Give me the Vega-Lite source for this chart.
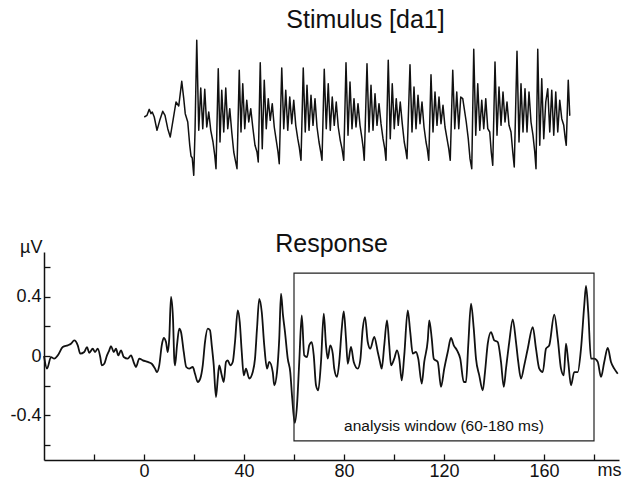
{
  "$schema": "https://vega.github.io/schema/vega-lite/v6.json",
  "background": "white",
  "padding": {"left": 9, "top": 8, "right": 5, "bottom": 0},
  "spacing": 50,
  "config": {
    "view": {"stroke": null},
    "font": "Liberation Sans",
    "title": {"anchor": "middle", "fontWeight": "normal", "color": "#111", "fontSize": 25, "font": "Liberation Sans"}
  },
  "datasets": {
    "stim": [
      {"t":0.1,"a":-0.05},{"t":1.2,"a":0},{"t":2.1,"a":0.18},{"t":2.8,"a":0.05},{"t":3.3,"a":0.1},{"t":4.1,"a":-0.05},{"t":5.2,"a":-0.45},{"t":6.3,"a":-0.15},{"t":7.5,"a":0.12},{"t":8.4,"a":0},{"t":9.5,"a":-0.4},{"t":10.5,"a":-0.65},{"t":11.6,"a":-0.15},{"t":12.8,"a":0.4},{"t":13.9,"a":0.28},{"t":15.1,"a":1.02},{"t":15.9,"a":0.5},{"t":16.5,"a":0.05},{"t":17.5,"a":-0.2},{"t":18.3,"a":-0.9},{"t":18.8,"a":-1.22},{"t":19.3,"a":-1.28},{"t":19.9,"a":-1.8},{"t":20.4,"a":-0.5},
      {"t":21.1,"a":2.25},{"t":21.9,"a":-0.45},{"t":22.7,"a":0.82},{"t":23.5,"a":-0.4},{"t":24.3,"a":0.78},{"t":25.1,"a":-0.35},{"t":25.9,"a":0.1},{"t":26.7,"a":-0.45},{"t":27.6,"a":-0.8},{"t":28.3,"a":-1.2},{"t":28.8,"a":-1.6},
      {"t":29.7,"a":1.4},{"t":30.4,"a":-0.8},{"t":31.1,"a":0.75},{"t":31.9,"a":-0.5},{"t":32.7,"a":0.82},{"t":33.5,"a":-0.4},{"t":34.3,"a":0.2},{"t":35.1,"a":-0.5},{"t":35.9,"a":-1.1},{"t":36.4,"a":-1.3},{"t":37.2,"a":-1.6},
      {"t":38.1,"a":1.35},{"t":38.8,"a":-0.5},{"t":39.5,"a":0.95},{"t":40.3,"a":-0.4},{"t":41.1,"a":0.45},{"t":41.9,"a":-0.2},{"t":42.7,"a":0.2},{"t":43.5,"a":-0.35},{"t":44.4,"a":-0.9},{"t":45.2,"a":-1.1},{"t":45.7,"a":-1.4},
      {"t":46.5,"a":1.58},{"t":47.3,"a":-1.0},{"t":48.1,"a":1.05},{"t":48.9,"a":-0.4},{"t":49.7,"a":0.5},{"t":50.5,"a":-0.15},{"t":51.3,"a":0.35},{"t":52.1,"a":-0.35},{"t":52.9,"a":-0.75},{"t":53.6,"a":-1.1},{"t":54.1,"a":-1.45},
      {"t":55.1,"a":1.42},{"t":55.9,"a":-0.4},{"t":56.7,"a":0.75},{"t":57.5,"a":-0.45},{"t":58.3,"a":0.55},{"t":59.1,"a":-0.25},{"t":59.9,"a":0.45},{"t":60.7,"a":-0.3},{"t":61.5,"a":-0.7},{"t":62.1,"a":-0.95},{"t":62.8,"a":-1.35},
      {"t":63.7,"a":1.42},{"t":64.5,"a":-0.5},{"t":65.2,"a":0.9},{"t":66.0,"a":-0.45},{"t":66.8,"a":0.6},{"t":67.6,"a":-0.3},{"t":68.4,"a":0.5},{"t":69.2,"a":-0.35},{"t":70.0,"a":-0.8},{"t":70.7,"a":-1.1},{"t":71.2,"a":-1.35},
      {"t":72.1,"a":1.38},{"t":72.9,"a":-0.4},{"t":73.7,"a":0.95},{"t":74.5,"a":-0.45},{"t":75.3,"a":0.55},{"t":76.1,"a":-0.3},{"t":76.9,"a":0.4},{"t":77.7,"a":-0.35},{"t":78.5,"a":-0.75},{"t":79.2,"a":-1.0},{"t":79.9,"a":-1.35},
      {"t":80.8,"a":1.58},{"t":81.6,"a":-0.6},{"t":82.4,"a":1.0},{"t":83.2,"a":-0.4},{"t":84.0,"a":0.5},{"t":84.8,"a":-0.35},{"t":85.6,"a":0.35},{"t":86.4,"a":-0.3},{"t":87.2,"a":-0.7},{"t":87.7,"a":-1.0},{"t":88.1,"a":-1.35},
      {"t":89.2,"a":1.55},{"t":90.0,"a":-0.5},{"t":90.8,"a":0.9},{"t":91.6,"a":-0.45},{"t":92.4,"a":0.65},{"t":93.2,"a":-0.3},{"t":94.0,"a":0.35},{"t":94.8,"a":-0.25},{"t":95.6,"a":-0.7},{"t":96.3,"a":-1.0},{"t":96.8,"a":-1.35},
      {"t":97.7,"a":1.65},{"t":98.5,"a":-0.7},{"t":99.3,"a":0.95},{"t":100.1,"a":-0.4},{"t":100.9,"a":0.5},{"t":101.7,"a":-0.3},{"t":102.5,"a":0.4},{"t":103.3,"a":-0.25},{"t":104.1,"a":-0.8},{"t":104.7,"a":-1.05},{"t":105.2,"a":-1.3},
      {"t":106.4,"a":1.52},{"t":107.2,"a":-0.5},{"t":108.0,"a":0.85},{"t":108.8,"a":-0.4},{"t":109.6,"a":0.6},{"t":110.4,"a":-0.25},{"t":111.2,"a":0.4},{"t":112.0,"a":-0.35},{"t":112.8,"a":-0.8},{"t":113.3,"a":-1.0},{"t":113.9,"a":-1.35},
      {"t":114.8,"a":1.22},{"t":115.6,"a":-0.5},{"t":116.4,"a":0.7},{"t":117.2,"a":-0.3},{"t":118.0,"a":0.55},{"t":118.8,"a":-0.25},{"t":119.6,"a":0.3},{"t":120.4,"a":-0.35},{"t":121.2,"a":-0.7},{"t":121.9,"a":-1.0},{"t":122.5,"a":-1.35},
      {"t":123.5,"a":1.35},{"t":124.3,"a":-0.4},{"t":125.1,"a":0.7},{"t":125.9,"a":-0.4},{"t":126.7,"a":0.55},{"t":127.5,"a":0.5},{"t":128.1,"a":0.2},{"t":128.9,"a":-0.2},{"t":129.7,"a":-0.7},{"t":130.4,"a":-1.3},{"t":131.1,"a":-1.6},
      {"t":131.9,"a":1.98},{"t":132.7,"a":-0.6},{"t":133.5,"a":0.95},{"t":134.3,"a":-0.45},{"t":135.1,"a":0.45},{"t":135.9,"a":-0.4},{"t":136.7,"a":0.5},{"t":137.5,"a":-0.4},{"t":138.3,"a":-0.5},{"t":138.9,"a":-1.1},{"t":139.5,"a":-1.5},
      {"t":140.4,"a":1.6},{"t":141.2,"a":-0.6},{"t":142.0,"a":0.85},{"t":142.8,"a":-0.3},{"t":143.6,"a":0.7},{"t":144.4,"a":-0.2},{"t":145.2,"a":0.4},{"t":146.0,"a":-0.3},{"t":146.8,"a":-0.5},{"t":147.5,"a":-1.1},{"t":148.1,"a":-1.55},
      {"t":149.2,"a":1.92},{"t":150.0,"a":-0.8},{"t":150.8,"a":0.95},{"t":151.6,"a":-0.5},{"t":152.4,"a":0.8},{"t":153.2,"a":-0.5},{"t":154.0,"a":0.7},{"t":154.8,"a":-0.2},{"t":155.6,"a":-0.6},{"t":156.3,"a":-1.1},{"t":156.8,"a":-1.6},
      {"t":157.5,"a":1.98},{"t":158.3,"a":-0.9},{"t":159.1,"a":1.1},{"t":159.9,"a":-0.7},{"t":160.7,"a":0.4},{"t":161.5,"a":0.8},{"t":162.3,"a":-0.5},{"t":163.1,"a":0.75},{"t":163.9,"a":-0.6},{"t":164.7,"a":0.7},{"t":165.5,"a":-0.5},{"t":166.3,"a":0.45},{"t":167.1,"a":-0.1},{"t":167.9,"a":-0.3},{"t":168.5,"a":-0.7},{"t":168.9,"a":-0.9},
      {"t":169.7,"a":1.05},{"t":170.3,"a":0},{"t":170.5,"a":0}
    ],
    "resp": [
      {"t":-40,"v":0.0},{"t":-38.8,"v":-0.085},{"t":-37.2,"v":-0.007},{"t":-35.9,"v":-0.018},{"t":-34.5,"v":0.004},{"t":-32.5,"v":0.06},{"t":-30.5,"v":0.072},{"t":-29.2,"v":0.083},{"t":-27.9,"v":0.105},{"t":-26.5,"v":0.072},{"t":-25.5,"v":0.016},{"t":-23.9,"v":0.027},{"t":-22.8,"v":0.06},{"t":-21.9,"v":0.022},{"t":-20.5,"v":0.049},{"t":-19.6,"v":0.027},{"t":-18.5,"v":0.049},{"t":-17.5,"v":-0.007},{"t":-16.9,"v":-0.063},{"t":-15.9,"v":-0.052},{"t":-14.8,"v":0.004},{"t":-13.9,"v":0.038},{"t":-13.2,"v":0.067},{"t":-12.1,"v":0.027},{"t":-11.2,"v":0.049},{"t":-10.3,"v":0.004},{"t":-9.2,"v":0.038},{"t":-8.1,"v":-0.007},{"t":-6.5,"v":-0.018},{"t":-5.2,"v":0.004},{"t":-3.9,"v":-0.052},{"t":-3.2,"v":-0.074},{"t":-1.9,"v":-0.018},{"t":-0.5,"v":-0.029},{"t":1.5,"v":-0.04},{"t":3.1,"v":-0.052},{"t":4.4,"v":-0.085},{"t":5.2,"v":-0.108},{"t":6.1,"v":-0.063},{"t":7.1,"v":0.072},{"t":7.9,"v":0.121},{"t":8.8,"v":0.094},{"t":9.5,"v":0.027},{"t":10.1,"v":0.117},{"t":10.8,"v":0.397},{"t":11.6,"v":0.251},{"t":12.1,"v":-0.018},{"t":12.4,"v":-0.063},{"t":13.2,"v":0.072},{"t":14.1,"v":0.184},{"t":14.8,"v":0.161},{"t":15.9,"v":0.027},{"t":16.9,"v":-0.074},{"t":18.1,"v":-0.085},{"t":19.5,"v":-0.074},{"t":20.4,"v":-0.119},{"t":21.5,"v":-0.175},{"t":22.5,"v":-0.152},{"t":23.5,"v":-0.063},{"t":24.4,"v":0.094},{"t":25.5,"v":0.184},{"t":26.4,"v":0.173},{"t":27.1,"v":0.072},{"t":27.9,"v":-0.063},{"t":28.8,"v":-0.276},{"t":29.5,"v":-0.152},{"t":30.1,"v":-0.063},{"t":31.1,"v":-0.13},{"t":31.9,"v":-0.175},{"t":32.8,"v":-0.04},{"t":33.5,"v":-0.029},{"t":34.5,"v":-0.063},{"t":35.5,"v":-0.04},{"t":36.4,"v":0.094},{"t":37.5,"v":0.307},{"t":38.3,"v":0.229},{"t":39.1,"v":0.027},{"t":39.9,"v":-0.13},{"t":40.8,"v":-0.085},{"t":42.1,"v":-0.152},{"t":43.5,"v":-0.108},{"t":44.4,"v":-0.018},{"t":45.2,"v":0.184},{"t":46.1,"v":0.385},{"t":47.1,"v":0.296},{"t":48.1,"v":0.072},{"t":49.2,"v":-0.085},{"t":50.1,"v":-0.04},{"t":51.5,"v":-0.108},{"t":52.1,"v":-0.197},{"t":53.2,"v":-0.108},{"t":54.1,"v":0.117},{"t":54.8,"v":0.419},{"t":55.6,"v":0.273},{"t":56.4,"v":0.161},{"t":57.5,"v":-0.018},{"t":58.5,"v":-0.108},{"t":59.3,"v":-0.287},{"t":60.3,"v":-0.45},{"t":61.2,"v":-0.332},{"t":62.1,"v":-0.04},{"t":63.1,"v":0.273},{"t":64.1,"v":0.004},{"t":65.2,"v":-0.007},{"t":66.1,"v":0.072},{"t":67.1,"v":0.094},{"t":67.9,"v":0.004},{"t":68.8,"v":-0.197},{"t":69.7,"v":-0.231},{"t":70.8,"v":-0.04},{"t":71.9,"v":0.285},{"t":72.8,"v":0.072},{"t":73.5,"v":-0.018},{"t":74.5,"v":0.072},{"t":75.5,"v":0.016},{"t":76.1,"v":-0.085},{"t":77.2,"v":-0.141},{"t":78.1,"v":-0.04},{"t":79.1,"v":0.184},{"t":79.9,"v":0.3},{"t":80.8,"v":0.117},{"t":81.5,"v":-0.052},{"t":82.8,"v":0.061},{"t":83.9,"v":-0.04},{"t":85.5,"v":-0.085},{"t":86.5,"v":-0.029},{"t":87.5,"v":0.184},{"t":88.4,"v":0.262},{"t":89.5,"v":0.094},{"t":90.5,"v":0.049},{"t":92.1,"v":0.128},{"t":93.5,"v":0.027},{"t":94.4,"v":-0.04},{"t":95.1,"v":-0.085},{"t":96.1,"v":0.072},{"t":97.2,"v":0.24},{"t":98.1,"v":0.072},{"t":98.8,"v":-0.063},{"t":100.1,"v":-0.018},{"t":101.2,"v":0.038},{"t":102.1,"v":-0.018},{"t":103.1,"v":-0.164},{"t":104.1,"v":0.004},{"t":105.5,"v":0.307},{"t":106.5,"v":0.161},{"t":107.5,"v":0.016},{"t":108.8,"v":0.027},{"t":109.7,"v":-0.018},{"t":111.1,"v":-0.186},{"t":112.1,"v":-0.04},{"t":113.5,"v":0.105},{"t":114.1,"v":0.24},{"t":115.1,"v":0.117},{"t":115.9,"v":-0.018},{"t":117.5,"v":-0.04},{"t":118.8,"v":-0.208},{"t":120.1,"v":-0.085},{"t":121.5,"v":0.027},{"t":122.8,"v":0.121},{"t":123.9,"v":0.072},{"t":125.2,"v":0.038},{"t":126.5,"v":-0.018},{"t":127.9,"v":-0.175},{"t":128.8,"v":-0.175},{"t":129.7,"v":0.072},{"t":130.8,"v":0.352},{"t":131.9,"v":0.184},{"t":132.8,"v":-0.018},{"t":134.1,"v":-0.13},{"t":135.5,"v":-0.231},{"t":136.4,"v":-0.108},{"t":137.5,"v":0.083},{"t":138.8,"v":0.161},{"t":140.1,"v":0.105},{"t":141.5,"v":0.094},{"t":142.8,"v":-0.04},{"t":143.9,"v":-0.208},{"t":144.8,"v":-0.085},{"t":146.1,"v":0.094},{"t":147.5,"v":0.246},{"t":148.8,"v":0.094},{"t":149.7,"v":-0.04},{"t":150.8,"v":-0.152},{"t":152.1,"v":-0.063},{"t":153.5,"v":0.049},{"t":155.5,"v":0.195},{"t":156.8,"v":0.049},{"t":158.1,"v":-0.085},{"t":159.5,"v":-0.108},{"t":160.8,"v":0.049},{"t":162.1,"v":0.072},{"t":164.1,"v":0.278},{"t":165.5,"v":0.117},{"t":166.8,"v":-0.085},{"t":167.9,"v":-0.13},{"t":168.8,"v":0.083},{"t":169.7,"v":-0.04},{"t":170.8,"v":-0.197},{"t":172.1,"v":-0.108},{"t":173.5,"v":-0.108},{"t":174.8,"v":0.049},{"t":176.1,"v":0.341},{"t":176.8,"v":0.471},{"t":177.7,"v":0.296},{"t":178.8,"v":-0.018},{"t":180.1,"v":-0.018},{"t":181.5,"v":-0.04},{"t":182.8,"v":-0.141},{"t":184.1,"v":-0.04},{"t":185.5,"v":0.054},{"t":186.8,"v":-0.04},{"t":188.1,"v":-0.085},{"t":189.5,"v":-0.119}
    ],
    "win": [{"x1": 60, "x2": 180, "y1": -0.571, "y2": 0.558, "lx": 120, "ly": -0.47, "label": "analysis window (60-180 ms)"}]
  },
  "vconcat": [
    {
      "width": 575,
      "height": 150,
      "title": {"text": "Stimulus [da1]", "dx": 34, "offset": -1},
      "data": {"name": "stim"},
      "mark": {"type": "line", "color": "#111", "strokeWidth": 1.5, "strokeJoin": "round"},
      "encoding": {
        "x": {"field": "t", "type": "quantitative", "scale": {"domain": [-40, 190], "nice": false, "zero": false}, "axis": null},
        "y": {"field": "a", "type": "quantitative", "scale": {"domain": [-2, 2.5], "nice": false, "zero": false}, "axis": null}
      }
    },
    {
      "width": 575,
      "height": 208,
      "title": {"text": "Response", "offset": -19},
      "resolve": {"axis": {"x": "independent", "y": "independent"}},
      "layer": [
        {
          "data": {"name": "resp"},
          "mark": {"type": "line", "color": "#111", "strokeWidth": 1.8, "strokeJoin": "round", "interpolate": "monotone"},
          "encoding": {
            "x": {
              "field": "t", "type": "quantitative",
              "scale": {"domain": [-40, 190], "nice": false, "zero": false},
              "axis": {
                "orient": "bottom", "title": "ms", "values": [0, 40, 80, 120, 160],
                "grid": false, "ticks": false, "labelPadding": 2,
                "domainColor": "#111", "domainWidth": 1.5, "labelFontSize": 18, "labelColor": "#111",
                "labelFlush": false, "labelOverlap": false,
                "titleFontSize": 18, "titleFontWeight": "normal", "titleColor": "#111",
                "titleX": 577, "titleY": 15, "titleAlign": "right", "titleBaseline": "alphabetic"
              }
            },
            "y": {
              "field": "v", "type": "quantitative",
              "scale": {"domain": [-0.7, 0.7], "nice": false, "zero": false},
              "axis": {
                "orient": "left", "title": "µV", "values": [-0.4, 0, 0.4],
                "format": ".1~f",
                "labelExpr": "replace(datum.label, '\u2212', '-')",
                "grid": false, "ticks": false, "labelPadding": 3,
                "domainColor": "#111", "domainWidth": 1.5, "labelFontSize": 18, "labelColor": "#111",
                "labelFlush": false, "labelOverlap": false,
                "titleFontSize": 18, "titleFontWeight": "normal", "titleColor": "#111",
                "titleAngle": 0, "titleX": -2, "titleY": 0, "titleAlign": "right", "titleBaseline": "alphabetic"
              }
            }
          }
        },
        {
          "data": {"name": "win"},
          "mark": {"type": "rect", "fill": "transparent", "stroke": "#222", "strokeWidth": 1.2},
          "encoding": {
            "x": {
              "field": "x1", "type": "quantitative",
              "axis": {"orient": "top", "offset": -208, "values": [-20, 0, 20, 40, 60, 80, 100, 120, 140, 160, 180],
                       "labels": false, "domain": false, "grid": false, "title": null,
                       "ticks": true, "tickSize": 6, "tickColor": "#111", "tickWidth": 1.3}
            },
            "x2": {"field": "x2"},
            "y": {
              "field": "y1", "type": "quantitative",
              "axis": {"orient": "right", "offset": -575, "values": [-0.6, -0.4, -0.2, 0, 0.2, 0.4, 0.6],
                       "labels": false, "domain": false, "grid": false, "title": null,
                       "ticks": true, "tickSize": 6, "tickColor": "#111", "tickWidth": 1.3}
            },
            "y2": {"field": "y2"}
          }
        },
        {
          "data": {"name": "win"},
          "mark": {"type": "text", "fontSize": 15.5, "color": "#111"},
          "encoding": {
            "x": {"field": "lx", "type": "quantitative", "axis": null},
            "y": {"field": "ly", "type": "quantitative", "axis": null},
            "text": {"field": "label"}
          }
        }
      ]
    }
  ]
}
